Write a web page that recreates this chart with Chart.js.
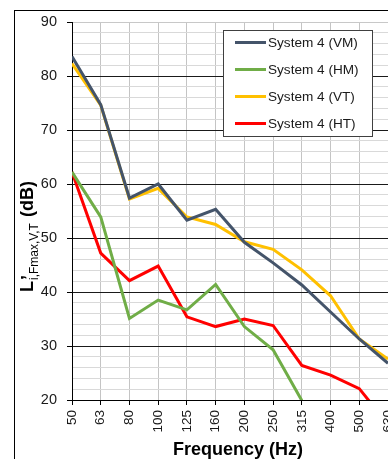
<!DOCTYPE html>
<html>
<head>
<meta charset="utf-8">
<script src="https://cdn.jsdelivr.net/npm/chart.js@4/dist/chart.umd.min.js"></script>
<style>
  html, body { margin: 0; padding: 0; background: #fff; overflow: hidden; }
  #wrap { width: 388px; height: 459px; position: relative; overflow: hidden; }
</style>
</head>
<body>
<div id="wrap"><canvas id="c" width="388" height="459"></canvas></div>
<script>
// Octave-band centre frequencies (Hz)
const frequencies = ['50', '63', '80', '100', '125', '160', '200', '250', '315', '400', '500', '630'];

// Maximum impact sound levels per configuration (dB)
const systemVM = [83.6, 74.7, 57.4, 60.0, 53.3, 55.3, 49.2, 45.4, 41.3, 36.3, 31.3, 26.8];
const systemHM = [62.2, 53.9, 35.1, 38.5, 36.7, 41.4, 33.6, 29.3, 19.9, null, null, null];
const systemVT = [82.3, 74.6, 57.2, 59.2, 53.9, 52.5, 49.3, 47.9, 44.1, 39.3, 31.3, 27.6];
const systemHT = [62.2, 47.2, 42.1, 44.8, 35.4, 33.6, 35.0, 33.8, 26.4, 24.6, 22.1, 15.5];

const seriesLabels = ['System 4 (VM)', 'System 4 (HM)', 'System 4 (VT)', 'System 4 (HT)'];
const seriesColors = ['#44546a', '#70ad47', '#ffc000', '#ff0000'];

const yMin = 20, yMax = 90, yMinorStep = 2, yMajorStep = 10;

const FONT = '"Liberation Sans", Arial, sans-serif';

// Outer frame, axis titles and the boxed legend
const decorations = {
  id: 'decorations',
  beforeDraw(chart) {
    const ctx = chart.ctx;
    ctx.save();
    ctx.fillStyle = '#ffffff';
    ctx.fillRect(0, 0, chart.width, chart.height);
    ctx.strokeStyle = '#000000';
    ctx.lineWidth = 1;
    ctx.strokeRect(14.5, 10.5, chart.width + 20, chart.height + 20);
    ctx.restore();
  },
  afterDraw(chart) {
    const ctx = chart.ctx;
    ctx.save();

    // x-axis title
    ctx.fillStyle = '#000000';
    ctx.font = 'bold 18px ' + FONT;
    ctx.textAlign = 'center';
    ctx.textBaseline = 'alphabetic';
    ctx.fillText('Frequency (Hz)', 238, 455);

    // y-axis title with prime and subscript, reading bottom to top
    ctx.save();
    ctx.translate(33, 292);
    ctx.rotate(-Math.PI / 2);
    ctx.textAlign = 'left';
    ctx.textBaseline = 'alphabetic';
    const big = 'bold 18px ' + FONT;
    const small = '12px ' + FONT;
    ctx.font = big;
    ctx.fillText('L', 0, 0);
    let x = ctx.measureText('L').width + 1;
    ctx.fillText('\u2019', x, 1);
    ctx.font = small;
    const sub = 'i,Fmax,V,T';
    ctx.fillText(sub, x, 5);
    x += ctx.measureText(sub).width + 6;
    ctx.font = big;
    ctx.fillText('(dB)', x, 0);
    ctx.restore();

    // legend box
    const lx = 223.5, ly = 30.5, lw = 149, lh = 106;
    ctx.fillStyle = '#ffffff';
    ctx.fillRect(lx, ly, lw, lh);
    ctx.strokeStyle = '#404040';
    ctx.lineWidth = 1;
    ctx.strokeRect(lx, ly, lw, lh);
    ctx.font = '13.6px ' + FONT;
    ctx.textAlign = 'left';
    ctx.textBaseline = 'middle';
    chart.data.datasets.forEach((ds, i) => {
      const cy = 42.5 + i * 27;
      ctx.strokeStyle = ds.borderColor;
      ctx.lineWidth = 3;
      ctx.beginPath();
      ctx.moveTo(235, cy);
      ctx.lineTo(266, cy);
      ctx.stroke();
      ctx.fillStyle = '#1a1a1a';
      ctx.fillText(ds.label, 268, cy + 0.5);
    });
    ctx.restore();
  }
};

const datasets = [systemVM, systemHM, systemVT, systemHT].map((values, i) => ({
  label: seriesLabels[i],
  data: values,
  borderColor: seriesColors[i],
  backgroundColor: seriesColors[i],
  borderWidth: 3,
  pointRadius: 0,
  tension: 0,
  spanGaps: false,
  clip: 0
}));

new Chart(document.getElementById('c'), {
  type: 'line',
  data: { labels: frequencies, datasets },
  plugins: [decorations],
  options: {
    responsive: false,
    animation: false,
    devicePixelRatio: 1,
    layout: { padding: { top: 22, left: 0, right: 0, bottom: 0 } },
    plugins: { legend: { display: false }, tooltip: { enabled: false } },
    scales: {
      x: {
        type: 'category',
        offset: false,
        afterFit(scale) {
          scale.height = 59;
          scale.paddingLeft = 0;
          scale.paddingRight = 0;
        },
        border: { display: true, color: '#000000', width: 1 },
        grid: {
          display: true,
          color: '#c4c4c4',
          lineWidth: 1,
          drawTicks: true,
          tickLength: 5,
          tickColor: '#000000'
        },
        ticks: {
          autoSkip: false,
          minRotation: 90,
          maxRotation: 90,
          padding: 5,
          color: '#1a1a1a',
          font: { family: FONT, size: 13.5 }
        }
      },
      y: {
        min: yMin,
        max: yMax,
        afterFit(scale) {
          scale.width = 72;
          scale.paddingTop = 0;
          scale.paddingBottom = 0;
        },
        border: { display: true, color: '#000000', width: 1 },
        grid: {
          display: true,
          color: ctx => {
            const v = ctx.tick ? ctx.tick.value : 0;
            if (v === yMax) return '#c8c8c8';
            return v % yMajorStep === 0 ? '#1a1a1a' : '#d9d9d9';
          },
          lineWidth: 1,
          drawTicks: true,
          tickLength: 5,
          tickColor: ctx => (ctx.tick && ctx.tick.value % yMajorStep === 0) ? '#000000' : 'rgba(0,0,0,0)'
        },
        ticks: {
          stepSize: yMinorStep,
          autoSkip: false,
          padding: 10,
          color: '#1a1a1a',
          font: { family: FONT, size: 14.5 },
          callback: v => (v % yMajorStep === 0 ? String(v) : '')
        }
      }
    }
  }
});
</script>
</body>
</html>
